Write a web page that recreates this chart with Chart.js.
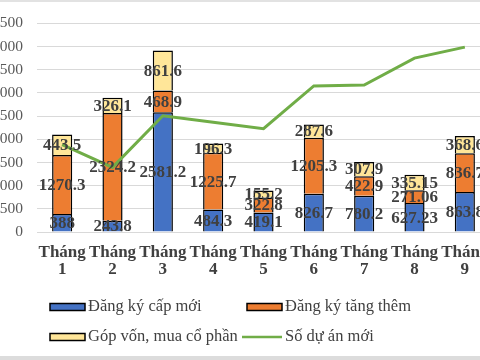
<!DOCTYPE html>
<html>
<head>
<meta charset="utf-8">
<script src="https://cdn.jsdelivr.net/npm/chart.js@4/dist/chart.umd.min.js"></script>
<style>
html,body{margin:0;padding:0;background:#fff;overflow:hidden;width:480px;height:360px;}
#wrap{position:absolute;left:-30px;top:0;width:550px;height:360px;}
#topband{position:absolute;left:0;top:0;width:480px;height:2px;background:#e2e2e2;}
#botband{position:absolute;left:0;top:356px;width:480px;height:4px;background:#dcdcdc;}
</style>
</head>
<body>
<div id="wrap"><canvas id="c" width="550" height="360"></canvas></div>
<div id="topband"></div>
<div id="botband"></div>
<script>
const categories = [["Tháng","1"],["Tháng","2"],["Tháng","3"],["Tháng","4"],["Tháng","5"],["Tháng","6"],["Tháng","7"],["Tháng","8"],["Tháng","9"]];
const capMoi = [388, 243.8, 2581.2, 484.3, 419.1, 826.7, 780.2, 627.23, 863.8];
const tangThem = [1270.3, 2324.2, 468.9, 1225.7, 322.8, 1205.3, 422.9, 271.06, 836.7];
const gopVon = [443.5, 326.1, 861.6, 196.3, 155.2, 287.6, 307.9, 335.15, 368.6];
const soDuAn = [188.6, 139.3, 250.7, 236.8, 222.9, 315, 317, 375, 398.6];
const labelTexts = [
  ["388","243.8","2581.2","484.3","419.1","826.7","780.2","627.23","863.8"],
  ["1270.3","2324.2","468.9","1225.7","322.8","1205.3","422.9","271.06","836.7"],
  ["443.5","326.1","861.6","196.3","155.2","287.6","307.9","335.15","368.6"]
];
const yTicks = [0,500,1000,1500,2000,2500,3000,3500,4000,4500];

const serif = "'Liberation Serif','Times New Roman',serif";

const dataLabels = {
  id:'dataLabels',
  afterDatasetsDraw(chart){
    const ctx = chart.ctx;
    ctx.save();
    ctx.font = "bold 17px " + serif;
    ctx.fillStyle = "#404040";
    ctx.textAlign = "center";
    ctx.textBaseline = "middle";
    [1,2,3].forEach((di, k) => {
      const meta = chart.getDatasetMeta(di);
      meta.data.forEach((el, i) => {
        const cy = (el.y + el.base) / 2;
        ctx.fillText(labelTexts[k][i], el.x, cy + 1);
      });
    });
    ctx.restore();
  }
};

const customLegend = {
  id:'customLegend',
  afterDraw(chart){
    const ctx = chart.ctx;
    const ds = chart.data.datasets;
    const slots = [
      {di:1, x:80, y:307},
      {di:2, x:277, y:307},
      {di:3, x:80, y:337},
      {di:0, x:272, y:337}
    ];
    ctx.save();
    ctx.font = "16.5px " + serif;
    ctx.textBaseline = "middle";
    ctx.textAlign = "left";
    slots.forEach(s => {
      const d = ds[s.di];
      if (d.type === 'line') {
        ctx.strokeStyle = d.borderColor;
        ctx.lineWidth = 2.5;
        ctx.beginPath();
        ctx.moveTo(s.x, s.y);
        ctx.lineTo(s.x + 40, s.y);
        ctx.stroke();
        ctx.fillStyle = "#404040";
        ctx.fillText(d.label, s.x + 43, s.y);
      } else {
        ctx.fillStyle = d.backgroundColor;
        ctx.fillRect(s.x, s.y - 3.5, 35, 7);
        ctx.strokeStyle = "#000";
        ctx.lineWidth = 1.5;
        ctx.strokeRect(s.x, s.y - 3.5, 35, 7);
        ctx.fillStyle = "#404040";
        ctx.fillText(d.label, s.x + 38, s.y);
      }
    });
    ctx.restore();
  }
};

new Chart(document.getElementById('c'), {
  data: {
    labels: categories,
    datasets: [
      {type:'line', label:'Số dự án mới', data:soDuAn, yAxisID:'y1', borderColor:'#70AD47', borderWidth:3, pointRadius:0, fill:false, tension:0, order:0},
      {type:'bar', label:'Đăng ký cấp mới', data:capMoi, backgroundColor:'#4472C4', borderColor:'#000', borderWidth:1.5, stack:'s', order:1},
      {type:'bar', label:'Đăng ký tăng thêm', data:tangThem, backgroundColor:'#ED7D31', borderColor:'#000', borderWidth:1.5, stack:'s', order:1},
      {type:'bar', label:'Góp vốn, mua cổ phần', data:gopVon, backgroundColor:'#FFE699', borderColor:'#000', borderWidth:1.5, stack:'s', order:1}
    ]
  },
  options: {
    responsive:false,
    animation:false,
    events:[],
    layout:{padding:{top:22,left:0,right:30,bottom:0}},
    datasets:{bar:{categoryPercentage:0.8, barPercentage:0.5}},
    plugins:{legend:{display:false}, tooltip:{enabled:false}},
    scales:{
      x:{
        stacked:true,
        grid:{display:false, drawTicks:false},
        border:{display:false},
        ticks:{font:{family:serif, size:17, weight:'bold', lineHeight:0.95}, color:'#404040', padding:13, maxRotation:0, autoSkip:false},
        afterFit(s){ s.height = 128; }
      },
      y:{
        stacked:true,
        min:0, max:4500,
        afterBuildTicks(s){ s.ticks = yTicks.map(v => ({value:v})); },
        grid:{color:'#d9d9d9', lineWidth:1, drawTicks:false},
        border:{display:false},
        ticks:{font:{family:serif, size:15.5}, color:'#595959', padding:14},
        afterFit(s){ s.width = 67; }
      },
      y1:{
        display:false, min:0, max:450, stacked:false
      }
    }
  },
  plugins:[dataLabels, customLegend]
});
</script>
</body>
</html>
